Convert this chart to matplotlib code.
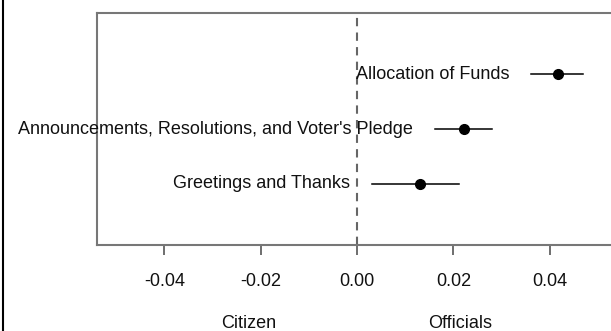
import matplotlib.pyplot as plt
from matplotlib.lines import Line2D
from matplotlib.transforms import blended_transform_factory

# Estimates
topics = ["Allocation of Funds",
          "Announcements, Resolutions, and Voter's Pledge",
          "Greetings and Thanks"]
estimate = [0.0418, 0.0223, 0.0131]
ci_low = [0.0362, 0.0162, 0.0031]
ci_high = [0.0470, 0.0280, 0.0211]
ticks = [-0.04, -0.02, 0.00, 0.02, 0.04]
tick_labels = ["-0.04", "-0.02", "0.00", "0.02", "0.04"]
side_labels = ["Citizen", "Officials"]
side_pos = [-0.0225, 0.0213]

plt.rcParams['font.family'] = ['Liberation Sans', 'DejaVu Sans']

fig = plt.figure(figsize=(6.11, 3.31), dpi=100)
ax = fig.add_axes([97 / 611, 1 - 245 / 331, 1 - 97 / 611 + 0.01, (245 - 13) / 331])

ypos = [3, 2, 1]
ax.set_ylim(-0.11, 4.11)
ax.set_xlim(-0.054, 0.054)

ax.axvline(0, color='#666666', lw=1.5, ls=(0, (4, 3)), zorder=1)
for y, lo, hi, est, name in zip(ypos, ci_low, ci_high, estimate, topics):
    ax.plot([lo, hi], [y, y], color='black', lw=1.1, zorder=2)
    ax.plot(est, y, 'o', color='black', ms=7, zorder=3)
    ax.annotate(name, (lo, y), xytext=(-16, 0), textcoords='offset points',
                ha='right', va='center', fontsize=13, color='#111111',
                annotation_clip=False)

for s in ax.spines.values():
    s.set_color('#777777')
    s.set_linewidth(1.5)

ax.set_yticks([])
ax.set_xticks(ticks)
ax.set_xticklabels(tick_labels, fontsize=13, color='#111111')
ax.tick_params(axis='x', length=7, width=1.2, color='#555555', pad=13)

trans = blended_transform_factory(ax.transData, fig.transFigure)
for lab, x in zip(side_labels, side_pos):
    ax.text(x, 1 - 323 / 331, lab, transform=trans, ha='center', va='center',
            fontsize=13, color='#111111')

fig.add_artist(Line2D([3 / 611, 3 / 611], [0, 1], color='black', lw=1.5))

fig.savefig('out.png', dpi=100)
